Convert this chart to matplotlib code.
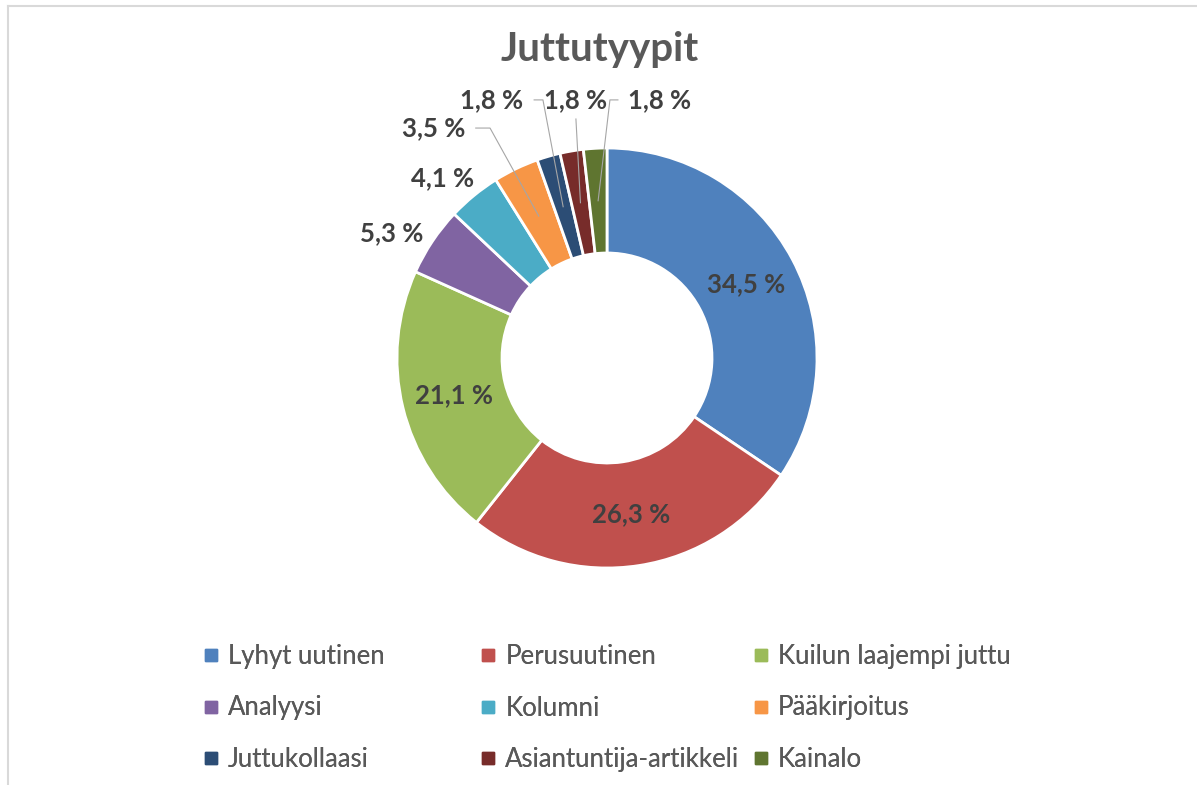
import numpy as np
import matplotlib.pyplot as plt
from matplotlib.lines import Line2D

# Data
categories = ["Lyhyt uutinen", "Perusuutinen", "Kuilun laajempi juttu",
              "Analyysi", "Kolumni", "Pääkirjoitus",
              "Juttukollaasi", "Asiantuntija-artikkeli", "Kainalo"]
shares = [34.5, 26.3, 21.1, 5.3, 4.1, 3.5, 1.8, 1.8, 1.8]
colors = ["#4F81BD", "#C0504D", "#9BBB59", "#8064A2", "#4BACC6",
          "#F79646", "#2C4D75", "#772C2A", "#5F7530"]

plt.rcParams["font.family"] = ["Lato", "DejaVu Sans"]

W, H = 1197, 785
fig = plt.figure(figsize=(W / 100, H / 100), dpi=100)
fig.patch.set_facecolor("white")

# pie centre and radius in pixels
cx, cy, R = 607, 358, 210
ax = fig.add_axes([(cx - R) / W, (H - cy - R) / H, 2 * R / W, 2 * R / H])

wedges, _ = ax.pie(shares, colors=colors, startangle=90, counterclock=False,
                   radius=1, wedgeprops=dict(width=0.5, edgecolor="white", linewidth=2))
ax.set_xlim(-1, 1)
ax.set_ylim(-1, 1)
ax.axis("off")

label_color = "#404040"
lead_color = "#A6A6A6"

def fmt(v):
    return f"{v:.1f} %".replace(".", ",")

def mid_point(w, r=0.75):
    a = np.deg2rad((w.theta1 + w.theta2) / 2)
    return r * np.cos(a), r * np.sin(a)

# labels inside the ring
for i in range(3):
    x, y = mid_point(wedges[i])
    ax.text(x, y, fmt(shares[i]), ha="center", va="center", fontsize=18.5,
            fontweight="bold", color=label_color)

# labels outside: text position, leader start, knee (pie units)
outside = {
    3: ((-1.024, 0.595), None, None),
    4: ((-0.781, 0.857), None, None),
    5: ((-0.824, 1.095), (-0.625, 1.095), (-0.557, 1.095)),
    6: ((-0.548, 1.229), (-0.347, 1.229), (-0.305, 1.229)),
    7: ((-0.148, 1.229), (-0.148, 1.138), (-0.148, 1.138)),
    8: ((0.248, 1.229), (0.052, 1.229), (0.014, 1.229)),
}
for i, (pos, start, knee) in outside.items():
    ax.text(pos[0], pos[1], fmt(shares[i]), ha="center", va="center", fontsize=18.5,
            fontweight="bold", color=label_color, clip_on=False)
    if start is not None:
        ex, ey = mid_point(wedges[i])
        ax.plot([start[0], knee[0], ex], [start[1], knee[1], ey],
                color=lead_color, lw=0.8, clip_on=False)

# Title
fig.text(600 / W, 1 - 50 / H, "Juttutyypit", ha="center", va="center",
         fontsize=29, fontweight="bold", color="#595959")

# Legend: three columns, row-wise order like Excel
col_x = [205, 482, 755]
for c in range(3):
    idx = [c, c + 3, c + 6]
    handles = [Line2D([], [], marker="s", linestyle="none", markersize=8.5,
                      markerfacecolor=colors[i], markeredgecolor=colors[i]) for i in idx]
    leg = fig.legend(handles, [categories[i] for i in idx], loc="center left",
                     bbox_to_anchor=(col_x[c] / W, 1 - 708 / H), frameon=False,
                     fontsize=18.5, labelcolor="#595959", handlelength=0.5,
                     handletextpad=0.4, labelspacing=1.05, borderpad=0,
                     borderaxespad=0)
    fig.add_artist(leg)

# Chart border (top and left visible)
fig.add_artist(Line2D([8 / W, 1], [1 - 6 / H, 1 - 6 / H], color="#D9D9D9", lw=1.5))
fig.add_artist(Line2D([8 / W, 8 / W], [0, 1 - 6 / H], color="#D9D9D9", lw=1.5))

fig.savefig("out.png", dpi=100, facecolor="white")
